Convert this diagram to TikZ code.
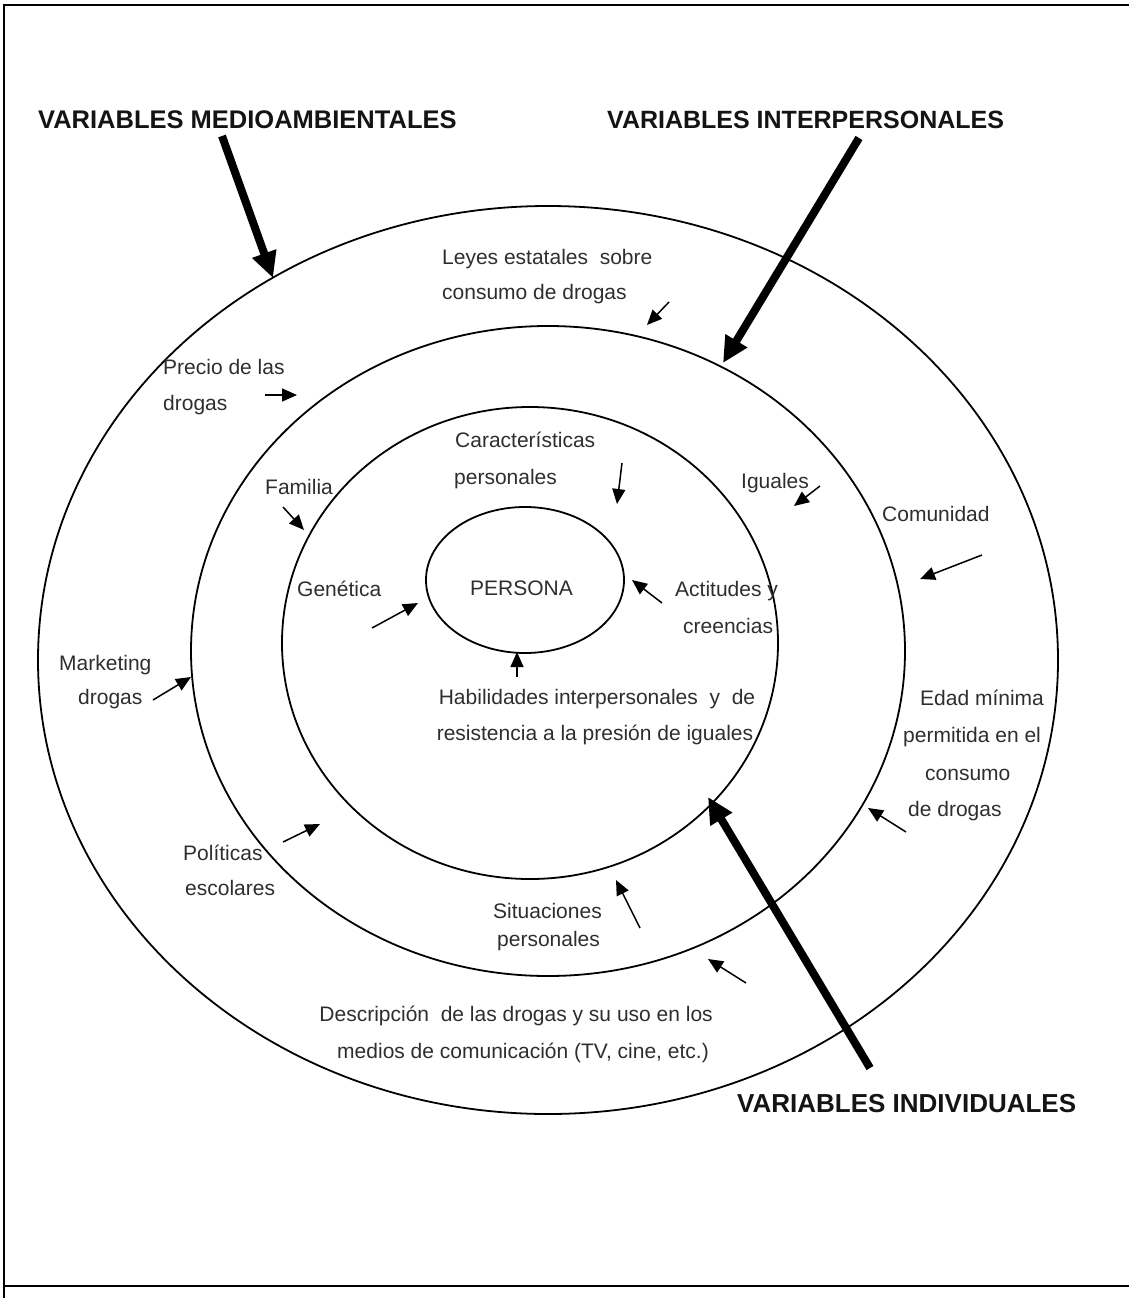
\documentclass[tikz,border=0pt]{standalone}
\usepackage{fontspec}
\setmainfont{Liberation Sans}
\usetikzlibrary{arrows.meta,shapes.geometric}
\begin{document}
\begin{tikzpicture}[x=1pt,y=-1pt,
  ring/.style={draw,ellipse,line width=1.8pt,inner sep=0pt},
  lbl/.style={anchor=base west,inner sep=0pt,font=\fontsize{21}{25}\selectfont,text=black!82},
  ttl/.style={anchor=base west,inner sep=0pt,font=\fontsize{25.5}{30}\selectfont\bfseries,text=black!92},
  thinarrow/.style={line width=1.5pt,-{Triangle[length=15pt,width=13pt]}},
  heavyarrow/.style={line width=8pt,-{Triangle[length=26pt,width=24pt]}},
  frameline/.style={line width=2pt}
]
\useasboundingbox (0,0) rectangle (1129,1298);
% frame
\coordinate (ftl) at (4,5);
\coordinate (ftr) at (1129,5);
\coordinate (fbl) at (4,1298);
\coordinate (fbm) at (4,1286);
\coordinate (fbr) at (1129,1286);
\draw[frameline] (ftr) -- (ftl) -- (fbl);
\draw[frameline] (fbm) -- (fbr);

% rings
\node[ring,minimum width=1020pt,minimum height=908pt] (outer) at (548,660) {};
\node[ring,minimum width=714pt,minimum height=650pt] (middle) at (548,651) {};
\node[ring,minimum width=496pt,minimum height=472pt] (inner) at (530,643) {};
\node[ring,minimum width=198pt,minimum height=146pt] (persona) at (525,580) {};
\node[lbl] (personatxt) at (470,595) {PERSONA};

% titles
\node[ttl] (tmedio) at (38,128) {VARIABLES MEDIOAMBIENTALES};
\node[ttl,font=\fontsize{25}{30}\selectfont\bfseries] (tinter) at (607,128) {VARIABLES INTERPERSONALES};
\node[ttl,font=\fontsize{26}{30}\selectfont\bfseries] (tindiv) at (737,1112) {VARIABLES INDIVIDUALES};

% heavy arrows
\coordinate (hm1) at (222,136); \coordinate (hm2) at (273,278);
\coordinate (hi1) at (859,138); \coordinate (hi2) at (723,363);
\coordinate (hd1) at (870,1068); \coordinate (hd2) at (708,797);
\draw[heavyarrow] (hm1) -- (hm2);
\draw[heavyarrow] (hi1) -- (hi2);
\draw[heavyarrow] (hd1) -- (hd2);

% labels
\node[lbl] (leyes1) at (442,264) {Leyes estatales\ \ sobre};
\node[lbl] (leyes2) at (442,299) {consumo de drogas};
\node[lbl] (precio1) at (163,374) {Precio de las};
\node[lbl] (precio2) at (163,410) {drogas};
\node[lbl] (carac1) at (455,447) {Características};
\node[lbl] (carac2) at (454,484) {personales};
\node[lbl] (familia) at (265,494) {Familia};
\node[lbl] (iguales) at (741,488) {Iguales};
\node[lbl] (comunidad) at (882,521) {Comunidad};
\node[lbl] (genetica) at (297,596) {Genética};
\node[lbl] (actit1) at (675,596) {Actitudes y};
\node[lbl] (actit2) at (683,633) {creencias};
\node[lbl,anchor=base] (habil1) at (597,704) {Habilidades interpersonales\ \ y\ \ de};
\node[lbl,anchor=base] (habil2) at (595,740) {resistencia a la presión de iguales};
\node[lbl] (mkt1) at (59,670) {Marketing};
\node[lbl] (mkt2) at (78,704) {drogas};
\node[lbl] (edad1) at (920,705) {Edad mínima};
\node[lbl] (edad2) at (903,742) {permitida en el};
\node[lbl] (edad3) at (925,780) {consumo};
\node[lbl] (edad4) at (908,816) {de drogas};
\node[lbl] (situ1) at (493,918) {Situaciones};
\node[lbl] (situ2) at (497,946) {personales};
\node[lbl] (polit1) at (183,860) {Políticas};
\node[lbl] (polit2) at (185,895) {escolares};
\node[lbl,anchor=base east] (descr1) at (713,1021) {Descripción\ \ de las drogas y su uso en los};
\node[lbl,anchor=base east] (descr2) at (709,1058) {medios de comunicación (TV, cine, etc.)};

% thin arrows
\coordinate (a1s) at (669,302); \coordinate (a1e) at (647,325);
\coordinate (a2s) at (265,395); \coordinate (a2e) at (297,395);
\coordinate (a3s) at (283,507); \coordinate (a3e) at (304,530);
\coordinate (a4s) at (622,463); \coordinate (a4e) at (617,504);
\coordinate (a5s) at (820,486); \coordinate (a5e) at (794,506);
\coordinate (a6s) at (982,555); \coordinate (a6e) at (920,579);
\coordinate (a7s) at (372,628); \coordinate (a7e) at (418,603);
\coordinate (a8s) at (662,603); \coordinate (a8e) at (632,580);
\coordinate (a9s) at (517,677); \coordinate (a9e) at (517,652);
\coordinate (a10s) at (153,700); \coordinate (a10e) at (191,677);
\coordinate (a11s) at (906,832); \coordinate (a11e) at (868,808);
\coordinate (a12s) at (640,928); \coordinate (a12e) at (616,880);
\coordinate (a13s) at (746,983); \coordinate (a13e) at (708,959);
\coordinate (a14s) at (283,842); \coordinate (a14e) at (320,824);
\foreach \i in {1,...,14} {\draw[thinarrow] (a\i s) -- (a\i e);}
\end{tikzpicture}
\end{document}
